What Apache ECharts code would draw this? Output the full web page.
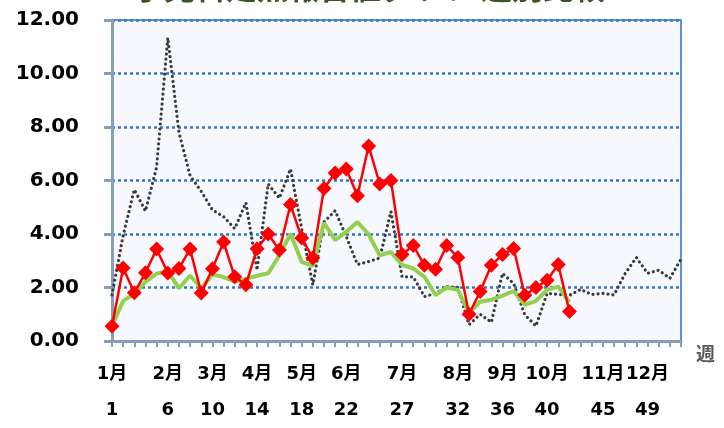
<!DOCTYPE html>
<html>
<head>
<meta charset="utf-8">
<script src="https://cdn.jsdelivr.net/npm/echarts@6/dist/echarts.min.js"></script>
<style>
  html, body { margin: 0; padding: 0; background: #ffffff; }
  #chart { width: 724px; height: 428px; }
</style>
</head>
<body>
<div id="chart"></div>
<script>
// ---- data ----
const titleText = "小児科定点報告値グラフ 週別比較";
const weeks = [];
for (let w = 1; w <= 52; w++) weeks.push(String(w));

// labelled weeks and their month names
const labelWeeks = [1, 6, 10, 14, 18, 22, 27, 32, 36, 40, 45, 49];
const labelMonths = ["1月", "2月", "3月", "4月", "5月", "6月", "7月", "8月", "9月", "10月", "11月", "12月"];

const yTicks = [0, 2, 4, 6, 8, 10, 12];

// previous year (black dotted)
const prevYear = [
  1.72, 3.95, 5.66, 4.86, 6.5, 11.33, 7.8, 6.18, 5.59, 4.9,
  4.65, 4.2, 5.17, 2.65, 5.87, 5.34, 6.43, 4.2, 2.1, 4.45,
  4.87, 3.9, 2.86, 2.97, 3.1, 4.84, 2.4, 2.4, 1.66, 1.78,
  2.04, 2.0, 0.61, 1.0, 0.7, 2.53, 2.15, 0.98, 0.56, 1.78,
  1.74, 1.71, 1.93, 1.74, 1.78, 1.72, 2.53, 3.12, 2.53, 2.65,
  2.34, 3.06
];

// average (green)
const average = [
  0.55, 1.5, 1.76, 2.21, 2.52, 2.62, 1.97, 2.45, 1.97, 2.49,
  2.39, 2.22, 2.32, 2.44, 2.53, 3.2, 4.0, 2.96, 2.81, 4.42,
  3.77, 4.08, 4.45, 3.98, 3.2, 3.33, 2.84, 2.71, 2.4, 1.72,
  2.0, 1.91, 1.04, 1.47, 1.54, 1.7, 1.87, 1.35, 1.5, 1.91,
  2.03, 1.45
];

// current year (red diamonds)
const current = [
  0.55, 2.73, 1.8, 2.55, 3.44, 2.54, 2.71, 3.44, 1.79, 2.7,
  3.7, 2.4, 2.1, 3.45, 4.0, 3.4, 5.1, 3.85, 3.1, 5.7,
  6.28, 6.43, 5.43, 7.29, 5.87, 6.0, 3.23, 3.57, 2.83, 2.68,
  3.57, 3.12, 1.0, 1.85, 2.83, 3.23, 3.46, 1.71, 2.0, 2.27,
  2.86, 1.1
];

// ---- chart ----
const chart = echarts.init(document.getElementById('chart'), null, { renderer: 'canvas' });
const axisGray = '#8A9DB8';

chart.setOption({
  animation: false,
  backgroundColor: '#ffffff',
  title: {
    text: titleText,
    left: 128,
    top: -33,
    textStyle: {
      color: '#375623',
      fontSize: 31,
      fontWeight: 'bold',
      fontFamily: '"Noto Sans CJK JP", sans-serif'
    }
  },
  grid: {
    left: 112,
    right: 43,
    top: 20,
    bottom: 85,
    show: true,
    backgroundColor: '#F7F9FE',
    borderColor: '#5B92D6',
    borderWidth: 2
  },
  xAxis: {
    type: 'category',
    data: weeks,
    boundaryGap: false,
    name: '週',
    nameLocation: 'end',
    nameGap: 15,
    nameTextStyle: {
      color: '#595959',
      fontSize: 19,
      fontWeight: 'bold',
      verticalAlign: 'top',
      padding: [3, 0, 0, 0],
      fontFamily: '"Noto Sans CJK JP", sans-serif'
    },
    axisLine: { lineStyle: { color: axisGray, width: 3 } },
    axisTick: { show: true, interval: 0, length: 6, lineStyle: { color: axisGray, width: 2 } },
    axisLabel: {
      interval: function (idx) { return labelWeeks.indexOf(idx + 1) >= 0; },
      formatter: function (val) {
        const i = labelWeeks.indexOf(Number(val));
        return i >= 0 ? labelMonths[i] + '\n' + val : '';
      },
      margin: 15,
      lineHeight: 36,
      color: '#000000',
      fontSize: 18,
      fontWeight: 'bold',
      fontFamily: '"DejaVu Sans", "Noto Sans CJK JP", sans-serif'
    },
    splitLine: { show: false }
  },
  yAxis: {
    type: 'value',
    min: 0,
    max: 12,
    interval: 2,
    axisLine: { show: true, lineStyle: { color: axisGray, width: 3 } },
    axisTick: { show: true, length: 8, lineStyle: { color: axisGray, width: 3 } },
    axisLabel: {
      formatter: function (v) { return v.toFixed(2); },
      margin: 33,
      color: '#000000',
      fontSize: 20,
      fontWeight: 'bold',
      fontFamily: '"DejaVu Sans", sans-serif'
    },
    splitLine: {
      show: true,
      lineStyle: { color: '#3477C0', width: 2.5, type: [3, 3] }
    }
  },
  series: [
    {
      name: '前年',
      type: 'line',
      data: prevYear,
      symbol: 'none',
      lineStyle: { color: '#3A3A3A', width: 3.2, type: [0.01, 5], cap: 'round' },
      z: 2
    },
    {
      name: '平均',
      type: 'line',
      data: average,
      symbol: 'none',
      lineStyle: { color: '#92D050', width: 4 },
      z: 3
    },
    {
      name: '今年',
      type: 'line',
      data: current,
      symbol: 'diamond',
      symbolSize: 15,
      showAllSymbol: true,
      itemStyle: { color: '#FF0000' },
      lineStyle: { color: '#FF0000', width: 2.5 },
      z: 4
    }
  ]
});
</script>
</body>
</html>
